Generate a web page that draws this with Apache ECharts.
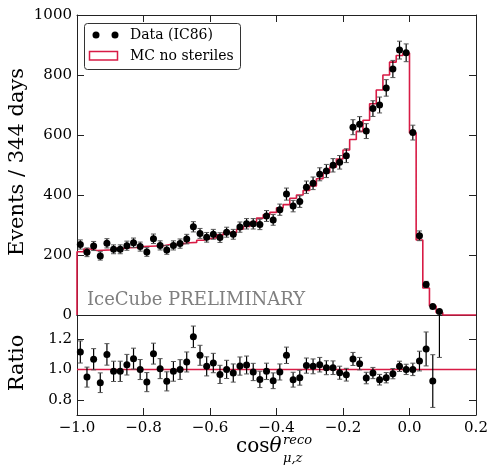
<!DOCTYPE html>
<html><head><meta charset="utf-8">
<script src="https://cdn.jsdelivr.net/npm/echarts@6/dist/echarts.min.js"></script>
<style>html,body{margin:0;padding:0;background:#fff}#c{width:493px;height:466px}</style>
</head><body><div id="c"></div>
<script>
// ---------- data ----------
const mcEdges = [-1.00,-0.98,-0.96,-0.94,-0.92,-0.90,-0.88,-0.86,-0.84,-0.82,-0.80,-0.78,-0.76,-0.74,-0.72,-0.70,-0.68,-0.66,-0.64,-0.62,-0.60,-0.58,-0.56,-0.54,-0.52,-0.50,-0.48,-0.46,-0.44,-0.42,-0.40,-0.38,-0.36,-0.34,-0.32,-0.30,-0.28,-0.26,-0.24,-0.22,-0.20,-0.18,-0.16,-0.14,-0.12,-0.10,-0.08,-0.06,-0.04,-0.02,0.00,0.02,0.04,0.06,0.08,0.10,0.12,0.14,0.16,0.18,0.20];
const mcCounts = [211,220,215,216,217,222,222,224,225,228,229,230,231,235,235,238,241,242,249,254,258,267,276,275,286,295,309,323,334,342,357,368,389,400,415,430,454,474,493,520,550,585,612,649,704,750,800,843,865,873,607,250,90,30,8,0,0,0,0,0];
const dataX = [-0.99,-0.97,-0.95,-0.93,-0.91,-0.89,-0.87,-0.85,-0.83,-0.81,-0.79,-0.77,-0.75,-0.73,-0.71,-0.69,-0.67,-0.65,-0.63,-0.61,-0.59,-0.57,-0.55,-0.53,-0.51,-0.49,-0.47,-0.45,-0.43,-0.41,-0.39,-0.37,-0.35,-0.33,-0.31,-0.29,-0.27,-0.25,-0.23,-0.21,-0.19,-0.17,-0.15,-0.13,-0.11,-0.09,-0.07,-0.05,-0.03,-0.01,0.01,0.03,0.05,0.07,0.09];
const dataCounts = [235,209,230,197,239,219,219,231,241,228,210,254,232,217,232,238,253,294,272,259,269,258,276,269,293,304,304,302,330,317,351,403,363,378,426,439,469,480,499,509,531,626,636,613,688,700,757,820,883,874,608,264,102,28,12];
const dataErr = [15.3,14.5,15.2,14.0,15.5,14.8,14.8,15.2,15.5,15.1,14.5,15.9,15.2,14.7,15.2,15.4,15.9,17.1,16.5,16.1,16.4,16.1,16.6,16.4,17.1,17.4,17.4,17.4,18.2,17.8,18.7,20.1,19.1,19.4,20.6,21.0,21.7,21.9,22.3,22.6,23.0,25.0,25.2,24.8,26.2,26.5,27.5,28.6,29.7,29.6,24.7,16.2,10.1,5.3,3.5];
const ratioVals = [1.116,0.95,1.068,0.913,1.10,0.988,0.988,1.032,1.072,1.0,0.917,1.105,1.006,0.922,0.988,1.0,1.05,1.216,1.094,1.021,1.043,0.968,1.001,0.977,1.023,1.03,0.984,0.935,0.988,0.926,0.984,1.094,0.933,0.946,1.026,1.021,1.032,1.012,1.012,0.979,0.966,1.07,1.039,0.944,0.977,0.933,0.946,0.973,1.021,1.001,1.001,1.056,1.136,0.924,1.51];
const ratioErr = [0.073,0.066,0.070,0.065,0.071,0.067,0.067,0.068,0.069,0.066,0.063,0.069,0.066,0.063,0.065,0.065,0.066,0.071,0.066,0.063,0.064,0.060,0.060,0.060,0.060,0.059,0.057,0.054,0.054,0.052,0.053,0.054,0.049,0.049,0.050,0.049,0.048,0.046,0.045,0.043,0.042,0.043,0.041,0.038,0.037,0.035,0.034,0.034,0.034,0.034,0.041,0.065,0.112,0.174,0.43];
const ratioRef = 1.0;
const xTicks = [-1.0,-0.8,-0.6,-0.4,-0.2,0.0,0.2];
const yTicks = [0,200,400,600,800,1000];
const ratioTicks = [0.8,1.0,1.2];

// ---------- build ----------
const FONT = 'DejaVu Serif';
const RED = '#d81b45';
const mcLine = [[mcEdges[0], 0]];
for (let i = 0; i < mcCounts.length; i++) {
  mcLine.push([mcEdges[i], mcCounts[i]]);
  mcLine.push([mcEdges[i + 1], mcCounts[i]]);
}
mcLine.push([mcEdges[mcEdges.length - 1], 0]);

function errRender(params, api) {
  const x = api.value(0), y = api.value(1), e = api.value(2);
  const p0 = api.coord([x, y - e]);
  const p1 = api.coord([x, y + e]);
  const cap = 2.5;
  return {
    type: 'group', children: [
      { type: 'line', shape: { x1: p0[0], y1: p0[1], x2: p1[0], y2: p1[1] }, style: { stroke: '#000', lineWidth: 1.2 } },
      { type: 'line', shape: { x1: p0[0] - cap, y1: p0[1], x2: p0[0] + cap, y2: p0[1] }, style: { stroke: '#555', lineWidth: 1 } },
      { type: 'line', shape: { x1: p1[0] - cap, y1: p1[1], x2: p1[0] + cap, y2: p1[1] }, style: { stroke: '#555', lineWidth: 1 } }
    ]
  };
}
const fmtX = v => (v < -1e-9 ? '\u2212' : '') + Math.abs(v).toFixed(1);
const axLine = { show: true, onZero: false, lineStyle: { color: '#222', width: 1 } };
const tickIn = { show: true, inside: true, length: 7, lineStyle: { color: '#222', width: 1 } };
const lbl = { fontFamily: FONT, fontSize: 15, color: '#000' };
const xBase = { type: 'value', min: xTicks[0], max: xTicks[xTicks.length - 1], interval: 0.2, splitLine: { show: false }, axisLine: axLine };
const yBase = { type: 'value', min: yTicks[0], max: yTicks[yTicks.length - 1], interval: 200, splitLine: { show: false }, axisLine: axLine };
const rBase = { type: 'value', min: 0.7, max: 1.36, splitLine: { show: false }, axisLine: axLine };

const chart = echarts.init(document.getElementById('c'), null, { renderer: 'canvas' });
chart.setOption({
  animation: false,
  backgroundColor: '#fff',
  grid: [
    { left: 77, top: 15, width: 399, height: 300 },
    { left: 77, top: 315, width: 399, height: 100 }
  ],
  xAxis: [
    Object.assign({}, xBase, { gridIndex: 0, position: 'bottom', axisTick: { show: false }, axisLabel: { show: false } }),
    Object.assign({}, xBase, { gridIndex: 0, position: 'top', axisTick: tickIn, axisLabel: { show: false } }),
    Object.assign({}, xBase, { gridIndex: 1, position: 'bottom', axisTick: tickIn, axisLabel: Object.assign({ margin: 6, formatter: fmtX }, lbl) }),
    Object.assign({}, xBase, { gridIndex: 1, position: 'top', axisTick: { show: false }, axisLabel: { show: false } })
  ],
  yAxis: [
    Object.assign({}, yBase, { gridIndex: 0, position: 'left', axisTick: tickIn, axisLabel: Object.assign({ margin: 5, formatter: v => String(Math.round(v)) }, lbl) }),
    Object.assign({}, yBase, { gridIndex: 0, position: 'right', axisTick: tickIn, axisLabel: { show: false } }),
    Object.assign({}, rBase, { gridIndex: 1, position: 'left',
      axisTick: Object.assign({ customValues: ratioTicks }, tickIn),
      axisLabel: Object.assign({ margin: 5, customValues: ratioTicks, formatter: v => v.toFixed(1) }, lbl) }),
    Object.assign({}, rBase, { gridIndex: 1, position: 'right',
      axisTick: Object.assign({ customValues: ratioTicks }, tickIn), axisLabel: { show: false } })
  ],
  series: [
    { type: 'line', xAxisIndex: 0, yAxisIndex: 0, data: mcLine, showSymbol: false, symbol: 'none',
      lineStyle: { color: RED, width: 1.6 }, z: 2, clip: false, silent: true },
    { type: 'custom', xAxisIndex: 0, yAxisIndex: 0, renderItem: errRender, clip: false, z: 3,
      data: dataX.map((x, i) => [x, dataCounts[i], dataErr[i]]) },
    { type: 'scatter', xAxisIndex: 0, yAxisIndex: 0, symbol: 'circle', symbolSize: 7, clip: false, z: 4,
      itemStyle: { color: '#000', opacity: 1 }, data: dataX.map((x, i) => [x, dataCounts[i]]) },
    { type: 'line', xAxisIndex: 2, yAxisIndex: 2, showSymbol: false, symbol: 'none',
      lineStyle: { color: RED, width: 1.6 }, z: 2, silent: true,
      data: [[xTicks[0], ratioRef], [xTicks[xTicks.length - 1], ratioRef]] },
    { type: 'custom', xAxisIndex: 2, yAxisIndex: 2, renderItem: errRender, clip: true, z: 3,
      data: dataX.map((x, i) => [x, ratioVals[i], ratioErr[i]]) },
    { type: 'scatter', xAxisIndex: 2, yAxisIndex: 2, symbol: 'circle', symbolSize: 7, clip: true, z: 4,
      itemStyle: { color: '#000', opacity: 1 }, data: dataX.map((x, i) => [x, ratioVals[i]]) }
  ],
  graphic: [
    // legend
    { type: 'rect', z: 100, shape: { x: 84.5, y: 23.5, width: 156, height: 46, r: 3 }, style: { fill: '#fff', stroke: '#333', lineWidth: 1 } },
    { type: 'circle', z: 101, shape: { cx: 96, cy: 35, r: 3.5 }, style: { fill: '#000' } },
    { type: 'circle', z: 101, shape: { cx: 115, cy: 35, r: 3.5 }, style: { fill: '#000' } },
    { type: 'rect', z: 101, shape: { x: 89.5, y: 51.5, width: 28, height: 8.5 }, style: { fill: 'none', stroke: RED, lineWidth: 1.5 } },
    { type: 'text', z: 101, x: 130, y: 35, style: { text: 'Data (IC86)', font: '14px "DejaVu Serif"', fill: '#000', verticalAlign: 'middle' } },
    { type: 'text', z: 101, x: 130, y: 56, style: { text: 'MC no steriles', font: '14px "DejaVu Serif"', fill: '#000', verticalAlign: 'middle' } },
    // watermark
    { type: 'text', z: 50, x: 87, y: 300, style: { text: 'IceCube PRELIMINARY', font: '18px "DejaVu Serif"', fill: '#7f7f7f', verticalAlign: 'middle' } },
    // axis titles
    { type: 'text', z: 50, x: 18, y: 162, rotation: Math.PI / 2, style: { text: 'Events / 344 days', font: '21px "DejaVu Serif"', fill: '#000', align: 'center', verticalAlign: 'middle' } },
    { type: 'text', z: 50, x: 18, y: 363, rotation: Math.PI / 2, style: { text: 'Ratio', font: '21px "DejaVu Serif"', fill: '#000', align: 'center', verticalAlign: 'middle' } },
    { type: 'text', z: 50, x: 236, y: 447, style: { text: '{a|cos}{b|θ}', verticalAlign: 'middle',
      rich: { a: { fontFamily: FONT, fontSize: 20, fill: '#000' }, b: { fontFamily: FONT, fontSize: 20, fontStyle: 'italic', fill: '#000' } } } },
    { type: 'text', z: 50, x: 283, y: 441, style: { text: 'reco', font: 'italic 13px "DejaVu Serif"', fill: '#000', verticalAlign: 'middle' } },
    { type: 'text', z: 50, x: 283, y: 459, style: { text: 'μ,z', font: 'italic 13px "DejaVu Serif"', fill: '#000', verticalAlign: 'middle' } }
  ]
});
</script></body></html>
